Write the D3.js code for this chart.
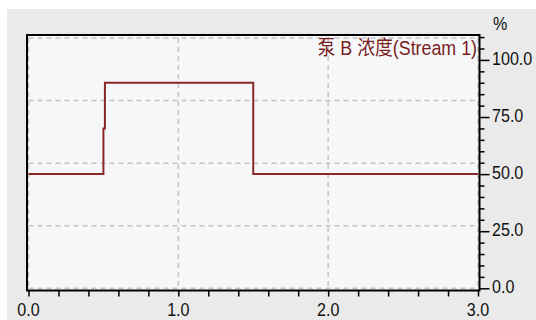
<!DOCTYPE html>
<html>
<head>
<meta charset="utf-8">
<script src="https://cdn.jsdelivr.net/npm/d3@7"></script>
<style>
  html, body { margin: 0; padding: 0; background: #ffffff; }
  svg { display: block; }
  text { font-family: "Liberation Sans", Arial, "Noto Sans CJK SC", sans-serif; }
</style>
</head>
<body>
<svg id="chart" width="536" height="320"></svg>
<script>
// Pump B gradient program: time (min) vs. concentration (%)
const timeMin = [0, 0.5, 0.5, 0.51, 0.51, 1.5, 1.5, 3.0];
const concB   = [50, 50, 70, 70, 90, 90, 50, 50];

const xMajorTicks = [0, 1, 2, 3];
const xTickLabels = ["0.0", "1.0", "2.0", "3.0"];
const yMajorTicks = [0, 25, 50, 75, 100];
const yTickLabels = ["0.0", "25.0", "50.0", "75.0", "100.0"];
const seriesName = "泵 B 浓度(Stream 1)";
const yUnit = "%";

const svg = d3.select("#chart");
const W = 536, H = 320;

// frame of the plotting area
const frame = { left: 27, top: 35, right: 479.5, bottom: 290.5 };

const x = d3.scaleLinear().domain([0, 3]).range([28.5, 478]);
const yTop = 109.6;
const y = d3.scaleLinear().domain([0, yTop]).range([288.3, 38]);

const FONT = 18.5, SX = 0.87;

// panel background
svg.append("rect").attr("x", 0).attr("y", 0).attr("width", W).attr("height", H).attr("fill", "#ffffff");
svg.append("rect").attr("x", 7).attr("y", 9).attr("width", W - 7).attr("height", H - 9).attr("fill", "#eaeaea");

// plot area
svg.append("rect")
  .attr("x", frame.left).attr("y", frame.top)
  .attr("width", frame.right - frame.left).attr("height", frame.bottom - frame.top)
  .attr("fill", "#f6f7f9");

// dashed grid: vertical at major x ticks, horizontal quartering the plot
const grid = svg.append("g").attr("stroke", "#c3c3c3").attr("stroke-width", 1.5)
  .attr("stroke-dasharray", "5,4").attr("fill", "none");
grid.selectAll("line.gx").data(xMajorTicks).join("line").attr("class", "gx")
  .attr("x1", d => x(d)).attr("x2", d => x(d))
  .attr("y1", y(yTop)).attr("y2", y(0));
grid.selectAll("line.gy").data(d3.range(5).map(k => yTop * k / 4)).join("line").attr("class", "gy")
  .attr("x1", x(0)).attr("x2", x(3))
  .attr("y1", d => y(d)).attr("y2", d => y(d));

// series line
const line = d3.line().x(d => x(d[0])).y(d => y(d[1]));
svg.append("path")
  .datum(d3.zip(timeMin, concB))
  .attr("d", line)
  .attr("fill", "none")
  .attr("stroke", "#8a2828")
  .attr("stroke-width", 2);

// frame border
svg.append("rect")
  .attr("x", frame.left).attr("y", frame.top)
  .attr("width", frame.right - frame.left).attr("height", frame.bottom - frame.top)
  .attr("fill", "none").attr("stroke", "#000").attr("stroke-width", 2);

// bottom axis: minor ticks every 0.2
const xMinor = d3.range(0, 3.0001, 0.2).map(v => +v.toFixed(1));
const xAxis = d3.axisBottom(x).tickValues(xMinor).tickSize(6).tickSizeOuter(0).tickFormat("");
const gx = svg.append("g").attr("transform", `translate(0,${frame.bottom})`).call(xAxis);
gx.select(".domain").remove();
gx.selectAll(".tick line").attr("stroke", "#000").attr("stroke-width", 1.5);

svg.append("g").selectAll("text").data(xMajorTicks).join("text")
  .attr("transform", d => `translate(${x(d)},316) scale(${SX},1)`)
  .attr("text-anchor", "middle")
  .attr("font-size", FONT)
  .attr("fill", "#111")
  .text((d, i) => xTickLabels[i]);

// right axis: minor ticks every 5, major every 25
const yMinor = d3.range(0, 111, 5).filter(v => v % 25 !== 0);
const gyMinor = svg.append("g").attr("transform", `translate(${frame.right},0)`)
  .call(d3.axisRight(y).tickValues(yMinor).tickSize(5).tickSizeOuter(0).tickFormat(""));
gyMinor.select(".domain").remove();
gyMinor.selectAll(".tick line").attr("stroke", "#000").attr("stroke-width", 1.5);

const gyMajor = svg.append("g").attr("transform", `translate(${frame.right},0)`)
  .call(d3.axisRight(y).tickValues(yMajorTicks).tickSize(10).tickSizeOuter(0).tickFormat(""));
gyMajor.select(".domain").remove();
gyMajor.selectAll(".tick line").attr("stroke", "#000").attr("stroke-width", 1.5);

svg.append("g").selectAll("text").data(yMajorTicks).join("text")
  .attr("transform", d => `translate(492,${y(d) + 5}) scale(${SX},1)`)
  .attr("font-size", FONT)
  .attr("fill", "#111")
  .text((d, i) => yTickLabels[i]);

// unit label
svg.append("text")
  .attr("transform", `translate(493,30) scale(${SX},1)`)
  .attr("font-size", FONT)
  .attr("fill", "#111")
  .text(yUnit);

// series label
svg.append("text")
  .attr("transform", `translate(477,55) scale(${SX},1)`)
  .attr("text-anchor", "end")
  .attr("font-size", 20.5)
  .attr("fill", "#7a1e1e")
  .text(seriesName);
</script>
</body>
</html>
